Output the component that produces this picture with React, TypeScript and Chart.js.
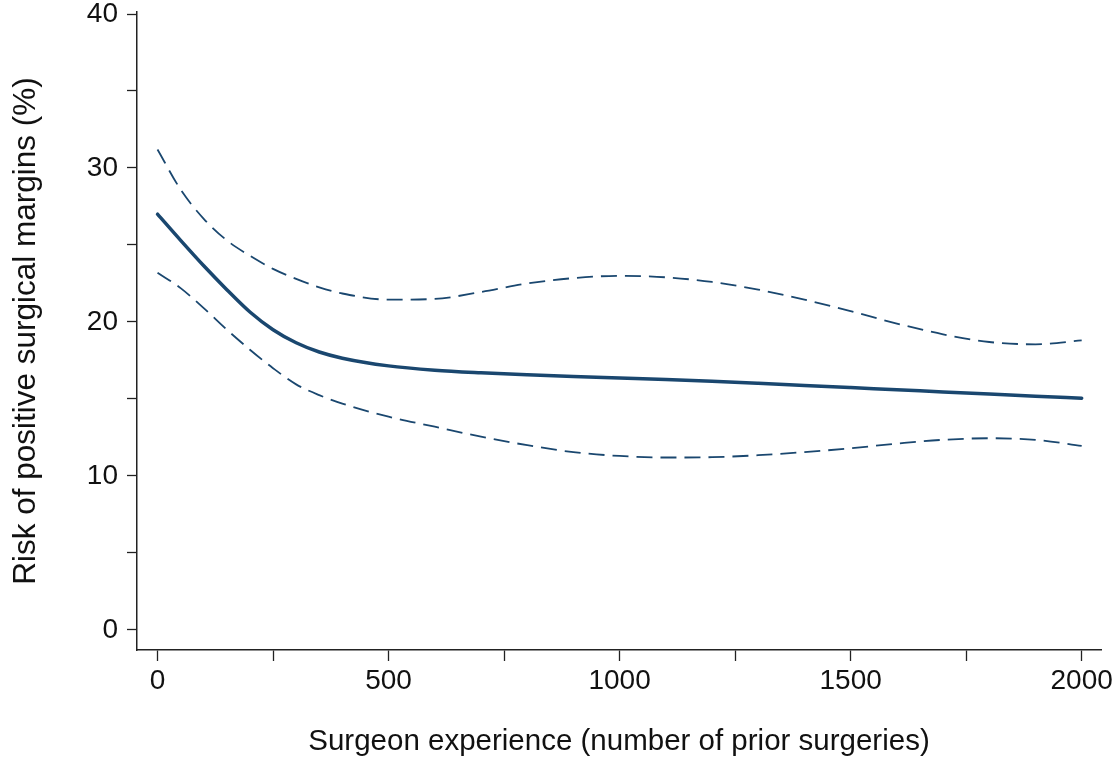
import React, { useEffect, useRef } from "react";
import { Chart, registerables } from "chart.js";

Chart.register(...registerables);

const experience = [0, 50, 100, 150, 200, 250, 300, 350, 400, 500, 600, 700, 800, 900, 1000, 1100, 1200, 1300, 1400, 1500, 1600, 1700, 1800, 1900, 2000];
const riskEstimate = [27.0, 25.3, 23.65, 22.1, 20.65, 19.5, 18.65, 18.05, 17.65, 17.15, 16.87, 16.7, 16.57, 16.46, 16.36, 16.26, 16.15, 16.02, 15.88, 15.74, 15.6, 15.46, 15.32, 15.18, 15.05];
const upperCI = [31.2, 28.6, 26.7, 25.3, 24.3, 23.45, 22.8, 22.25, 21.85, 21.45, 21.5, 21.95, 22.5, 22.85, 23.0, 22.9, 22.6, 22.1, 21.45, 20.7, 19.9, 19.2, 18.7, 18.55, 18.8];
const lowerCI = [23.2, 22.2, 20.9, 19.5, 18.2, 17.0, 15.95, 15.25, 14.7, 13.85, 13.2, 12.55, 12.0, 11.55, 11.3, 11.2, 11.22, 11.35, 11.55, 11.8, 12.1, 12.35, 12.45, 12.35, 11.95];

const xTicks = [0, 250, 500, 750, 1000, 1250, 1500, 1750, 2000];
const xLabelTicks = [0, 500, 1000, 1500, 2000];
const yTicks = [0, 5, 10, 15, 20, 25, 30, 35, 40];
const yLabelTicks = [0, 10, 20, 30, 40];

const xTitle = "Surgeon experience (number of prior surgeries)";
const yTitle = "Risk of positive surgical margins (%)";

const NAVY = "#1a476f";
const AXIS = "#222222";
const FONT = "'Liberation Sans', Arial, Helvetica, sans-serif";

const toPoints = (ys: number[]) => experience.map((x, i) => ({ x, y: ys[i] }));

export default function App() {
  const ref = useRef<HTMLCanvasElement | null>(null);

  useEffect(() => {
    if (!ref.current) return;
    const chart = new Chart(ref.current, {
      type: "line",
      data: {
        datasets: [
          {
            label: "Upper",
            data: toPoints(upperCI),
            borderColor: NAVY,
            borderWidth: 1.8,
            borderDash: [16, 8],
            pointRadius: 0,
            cubicInterpolationMode: "monotone",
            fill: false,
          },
          {
            label: "Estimate",
            data: toPoints(riskEstimate),
            borderColor: NAVY,
            borderWidth: 3.5,
            borderCapStyle: "round",
            pointRadius: 0,
            cubicInterpolationMode: "monotone",
            fill: false,
          },
          {
            label: "Lower",
            data: toPoints(lowerCI),
            borderColor: NAVY,
            borderWidth: 1.8,
            borderDash: [16, 8],
            pointRadius: 0,
            cubicInterpolationMode: "monotone",
            fill: false,
          },
        ],
      },
      options: {
        animation: false,
        responsive: false,
        events: [],
        layout: { padding: { top: 32, right: 18, left: 0, bottom: 0 } },
        plugins: {
          legend: { display: false },
          tooltip: { enabled: false },
          title: { display: false },
        },
        scales: {
          x: {
            type: "linear",
            min: -44.4,
            max: 2041.8,
            afterBuildTicks: (scale: any) => {
              scale.ticks = xTicks.map((v) => ({ value: v }));
            },
            afterFit: (scale: any) => {
              scale.height = 111;
            },
            ticks: {
              autoSkip: false,
              maxRotation: 0,
              padding: 3,
              color: "#111",
              font: { family: FONT, size: 28 },
              callback: (v: any) => (xLabelTicks.includes(Number(v)) ? String(v) : ""),
            },
            grid: {
              drawOnChartArea: false,
              drawTicks: true,
              tickLength: 11,
              tickWidth: 1.3,
              tickColor: AXIS,
              color: AXIS,
            },
            border: { display: true, color: AXIS, width: 1.5 },
            title: {
              display: true,
              text: xTitle,
              color: "#111",
              font: { family: FONT, size: 29.5 },
              padding: { top: 0, bottom: 1.3 },
            },
          },
          y: {
            type: "linear",
            min: -1.3,
            max: 40.13,
            afterBuildTicks: (scale: any) => {
              scale.ticks = yTicks.map((v) => ({ value: v }));
            },
            afterFit: (scale: any) => {
              scale.width = 137;
            },
            ticks: {
              autoSkip: false,
              padding: 9,
              color: "#111",
              font: { family: FONT, size: 28 },
              callback: (v: any) => (yLabelTicks.includes(Number(v)) ? String(v) : ""),
            },
            grid: {
              drawOnChartArea: false,
              drawTicks: true,
              tickLength: 10,
              tickWidth: 1.3,
              tickColor: AXIS,
              color: AXIS,
            },
            border: { display: true, color: AXIS, width: 1.5 },
            title: {
              display: true,
              text: yTitle,
              color: "#111",
              font: { family: FONT, size: 31.5 },
              padding: { top: 7, bottom: 0 },
            },
          },
        },
      } as any,
    });
    return () => chart.destroy();
  }, []);

  return (
    <canvas
      ref={ref}
      width={1119}
      height={781}
      style={{ position: "absolute", left: 0, top: -20, width: 1119, height: 781, background: "#fff" }}
    />
  );
}
